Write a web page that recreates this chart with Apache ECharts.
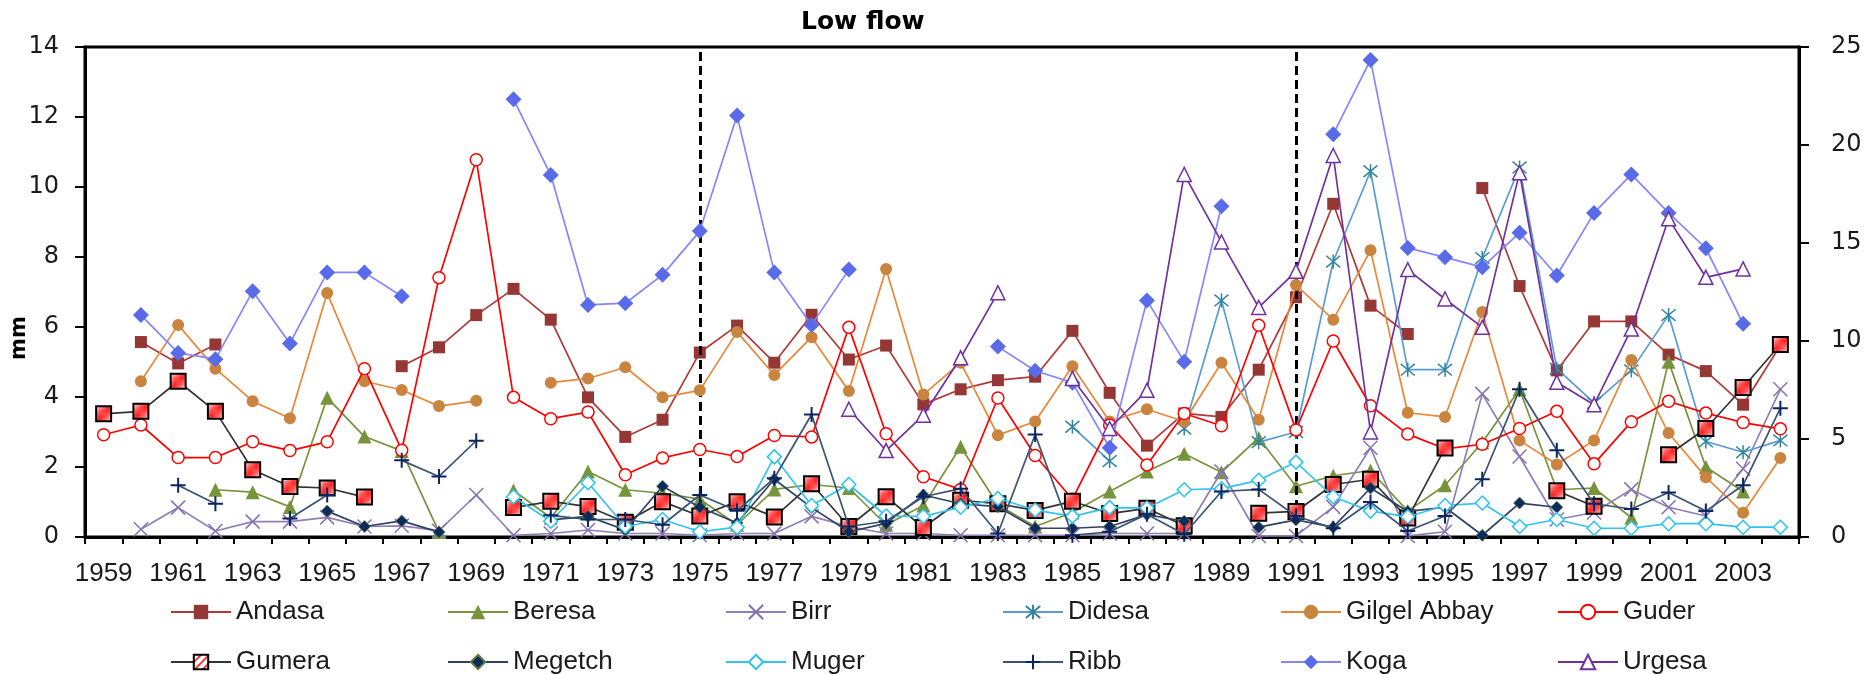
<!DOCTYPE html>
<html>
<head>
<meta charset="utf-8">
<script src="https://cdn.jsdelivr.net/npm/echarts@6/dist/echarts.min.js"></script>
<style>
html,body{margin:0;padding:0;background:#fff;}
#chart{width:1866px;height:674px;}
</style>
</head>
<body>
<div id="chart"></div>
<script>
// ---------- DATA ----------
const years = ['1959','1960','1961','1962','1963','1964','1965','1966','1967','1968','1969','1970','1971','1972','1973','1974','1975','1976','1977','1978','1979','1980','1981','1982','1983','1984','1985','1986','1987','1988','1989','1990','1991','1992','1993','1994','1995','1996','1997','1998','1999','2000','2001','2002','2003','2004'];
const leftTicks = [0, 14, 2];   // min, max, interval (mm)
const rightTicks = [0, 25, 5];
const breakYears = ['1975', '1991'];

const andasa = [null,5.57,4.96,5.50,null,null,null,null,4.88,5.42,6.34,7.09,6.21,3.99,2.86,3.35,5.27,6.04,4.98,6.35,5.07,5.47,3.79,4.22,4.48,4.58,5.89,4.12,2.61,3.53,3.43,4.78,6.85,9.52,6.61,5.80,null,9.97,7.17,4.76,6.16,6.16,5.21,4.74,3.78,5.47];
const beresa = [null,null,null,1.35,1.28,0.86,3.98,2.87,2.46,0.14,null,1.33,0.55,1.87,1.35,1.25,1.08,0.35,1.36,1.50,1.40,0.35,0.90,2.58,0.92,0.30,0.70,1.30,1.87,2.38,1.85,2.83,1.45,1.75,1.90,0.74,1.48,2.70,4.22,1.35,1.40,0.55,5.01,2.00,1.30,null];
const birr = [null,0.22,0.84,0.17,0.44,0.44,0.56,0.30,0.32,0.18,1.20,0.05,0.10,0.20,0.10,0.10,0.05,0.10,0.10,0.59,0.30,0.10,0.10,0.05,0.05,0.05,0.05,0.10,0.10,0.10,1.87,0.03,0.03,0.86,2.55,0.03,0.15,4.09,2.30,0.50,0.70,1.36,0.85,0.60,1.95,4.22];
const didesa = [null,null,null,null,null,null,null,null,null,null,null,null,null,null,null,null,null,null,null,null,null,null,null,null,null,null,3.15,2.17,null,3.10,6.76,2.71,3.00,7.87,10.45,4.78,4.78,7.97,10.56,4.81,3.83,4.76,6.34,2.73,2.42,2.76];
const gilgelAbbay = [null,4.45,6.06,4.81,3.88,3.39,6.97,4.45,4.20,3.74,3.89,null,4.41,4.53,4.85,3.99,4.19,5.86,4.63,5.71,4.17,7.66,4.07,4.98,2.91,3.30,4.88,3.30,3.65,3.30,4.98,3.35,7.20,6.21,8.19,3.55,3.43,6.43,2.76,2.07,2.76,5.06,2.97,1.71,0.69,2.26];
const guder = [2.92,3.20,2.27,2.27,2.72,2.47,2.72,4.81,2.48,7.41,10.78,3.99,3.38,3.57,1.78,2.26,2.50,2.30,2.90,2.86,5.99,2.95,1.72,1.36,3.97,2.33,1.08,3.20,2.06,3.53,3.18,6.05,3.06,5.60,3.75,2.94,2.52,2.65,3.10,3.59,2.09,3.29,3.88,3.54,3.27,3.09];
const gumera = [3.52,3.59,4.45,3.59,1.92,1.44,1.40,1.14,null,null,null,0.84,1.02,0.87,0.42,1.01,0.60,1.01,0.57,1.52,0.30,1.15,0.27,1.05,0.95,0.76,1.02,0.67,0.82,0.32,null,0.68,0.73,1.50,1.65,0.54,2.54,null,null,1.32,0.88,null,2.35,3.10,4.27,5.50];
const megetch = [null,null,null,null,null,null,0.74,0.30,0.46,0.14,null,null,0.49,0.59,0.20,1.45,0.85,0.40,1.65,0.84,0.15,0.39,1.20,0.95,0.87,0.25,0.25,0.30,0.64,0.45,null,0.28,0.49,0.28,1.40,0.73,0.85,0.05,0.97,0.85,null,null,null,null,null,null];
const muger = [null,null,null,null,null,null,null,null,null,null,null,1.15,0.45,1.55,0.30,0.50,0.15,0.28,2.29,0.90,1.50,0.60,0.59,0.85,1.10,0.77,0.59,0.84,0.83,1.35,1.38,1.62,2.14,1.15,0.74,0.58,0.90,0.97,0.30,0.50,0.25,0.25,0.38,0.38,0.28,0.28];
const ribb = [null,null,1.48,0.95,null,0.53,1.20,null,2.19,1.73,2.75,null,0.62,0.50,0.50,0.35,1.20,0.75,1.68,3.50,0.30,0.45,1.15,1.38,0.10,2.93,0.05,0.15,0.65,0.08,1.30,1.36,0.60,0.25,1.00,0.17,0.60,1.65,4.22,2.48,0.95,0.80,1.27,0.74,1.48,3.68];
const koga = [null,6.34,5.26,5.08,7.02,5.53,7.56,7.56,6.88,null,null,12.51,10.34,6.63,6.68,7.49,8.74,12.04,7.56,6.06,7.64,null,null,null,5.44,4.75,4.41,2.55,6.76,5.01,9.45,null,null,11.51,13.63,8.26,7.99,7.71,8.69,7.47,9.26,10.36,9.26,8.25,6.09,null];
const urgesa = [null,null,null,null,null,null,null,null,null,null,null,null,null,null,null,null,null,null,null,null,3.65,2.47,3.48,5.12,6.98,null,4.53,3.10,4.19,10.36,8.43,6.56,7.59,10.90,3.00,7.64,6.80,5.99,10.41,4.42,3.78,5.94,9.09,7.42,7.66,null];

const seriesNames = ['Andasa','Beresa','Birr','Didesa','Gilgel Abbay','Guder','Gumera','Megetch','Muger','Ribb','Koga','Urgesa'];
const seriesData = [andasa,beresa,birr,didesa,gilgelAbbay,guder,gumera,megetch,muger,ribb,koga,urgesa];

// ---------- STYLES ----------
function hatch(){
  const c = document.createElement('canvas');
  c.width = 8; c.height = 8;
  const g = c.getContext('2d');
  g.fillStyle = '#ffffff'; g.fillRect(0,0,8,8);
  g.strokeStyle = '#ff1f1f'; g.lineWidth = 1.6;
  g.beginPath(); g.moveTo(0,8); g.lineTo(8,0); g.stroke();
  g.beginPath(); g.moveTo(-4,4); g.lineTo(4,-4); g.stroke();
  g.beginPath(); g.moveTo(4,12); g.lineTo(12,4); g.stroke();
  return c;
}
const X_PATH = 'path://M0,0L10,10M10,0L0,10';
const AST_PATH = 'path://M0,0L10,10M10,0L0,10M5,-1L5,11';
const PLUS_PATH = 'path://M5,0L5,10M0,5L10,5';

const styles = {
  'Andasa':      {line:'#B03A3A', symbol:'rect', size:12, fill:'#953735', border:'#953735', bw:0},
  'Beresa':      {line:'#77933C', symbol:'triangle', size:14, fill:'#77933C', border:'#77933C', bw:0},
  'Birr':        {line:'#8F7FB5', symbol:X_PATH, size:14, fill:'none', border:'#8672B0', bw:1.5},
  'Didesa':      {line:'#5B9BD5', symbol:AST_PATH, size:14, fill:'none', border:'#31859C', bw:1.5},
  'Gilgel Abbay':{line:'#E8873A', symbol:'circle', size:12, fill:'#C9843F', border:'#C9843F', bw:0},
  'Guder':       {line:'#FF0000', symbol:'circle', size:12, fill:'#ffffff', border:'#FF0000', bw:1.5},
  'Gumera':      {line:'#333333', symbol:'rect', size:15, fill:{image:hatch(), repeat:'repeat'}, border:'#000000', bw:2},
  'Megetch':     {line:'#2F4262', symbol:'diamond', size:12, fill:'#0D2B5C', border:'#5E7A45', bw:0.8},
  'Muger':       {line:'#33C3F0', symbol:'diamond', size:14, fill:'#ffffff', border:'#29C4EE', bw:1.5},
  'Ribb':        {line:'#3A5273', symbol:PLUS_PATH, size:15, fill:'none', border:'#0B2560', bw:2},
  'Koga':        {line:'#8585FF', symbol:'diamond', size:16, fill:'#5A6BEA', border:'#5A6BEA', bw:0},
  'Urgesa':      {line:'#7030A0', symbol:'triangle', size:14, fill:'#ffffff', border:'#7030A0', bw:1.5}
};

const series = seriesNames.map((name, i) => {
  const s = styles[name];
  const o = {
    name: name,
    type: 'line',
    data: seriesData[i],
    connectNulls: false,
    symbol: s.symbol,
    symbolSize: s.size,
    showAllSymbol: true,
    lineStyle: {color: s.line, width: 1.7},
    itemStyle: {color: s.fill, borderColor: s.border, borderWidth: s.bw},
    emphasis: {disabled: true},
    z: 2 + i
  };
  if (i === 0) {
    o.markLine = {
      silent: true,
      symbol: ['none','none'],
      label: {show: false},
      lineStyle: {color: '#000', type: [9, 5], width: 3},
      data: breakYears.map(y => ({xAxis: y}))
    };
  }
  return o;
});

// legend: 2 rows x 6 columns
const legendCols = [165, 442, 720, 997, 1275, 1552];
const legendRows = [594, 644];
const legends = seriesNames.map((name, i) => ({
  data: [name],
  left: legendCols[i % 6],
  top: legendRows[Math.floor(i / 6)],
  itemWidth: 60,
  itemHeight: 18,
  selectedMode: false,
  textStyle: {fontFamily: 'Liberation Sans, Arial, sans-serif', fontSize: 26, color: '#1a1a1a'}
}));

const labelFont = {fontFamily: 'DejaVu Sans, Verdana, sans-serif', fontSize: 24, color: '#1a1a1a'};

const option = {
  animation: false,
  backgroundColor: '#ffffff',
  title: {
    text: 'Low flow',
    left: 796, top: 5,
    textStyle: {fontFamily: 'DejaVu Sans, Verdana, sans-serif', fontWeight: 'bold', fontSize: 25, color: '#000'}
  },
  grid: {left: 85, right: 67, top: 47, bottom: 137, show: true, borderColor: '#000', borderWidth: 3, backgroundColor: 'transparent'},
  legend: legends,
  xAxis: {
    type: 'category',
    data: years,
    boundaryGap: true,
    axisLine: {lineStyle: {color: '#000', width: 3}},
    axisTick: {show: true, interval: 0, length: 7, inside: false, lineStyle: {color: '#000', width: 2}},
    axisLabel: {interval: 1, margin: 24, fontFamily: 'Liberation Sans, Arial, sans-serif', fontSize: 26, color: '#1a1a1a'},
    splitLine: {show: false}
  },
  yAxis: [
    {
      type: 'value', position: 'left',
      min: leftTicks[0], max: leftTicks[1], interval: leftTicks[2],
      axisLine: {show: true, lineStyle: {color: '#000', width: 3}},
      axisTick: {show: true, length: 10, lineStyle: {color: '#000', width: 2}},
      axisLabel: Object.assign({margin: 26}, labelFont),
      splitLine: {show: false}
    },
    {
      type: 'value', position: 'right',
      min: rightTicks[0], max: rightTicks[1], interval: rightTicks[2],
      axisLine: {show: true, lineStyle: {color: '#000', width: 3}},
      axisTick: {show: true, length: 10, lineStyle: {color: '#000', width: 2}},
      axisLabel: Object.assign({margin: 32}, labelFont),
      splitLine: {show: false}
    }
  ],
  graphic: [
    {type: 'text', x: 20, y: 338, rotation: Math.PI / 2,
     style: {text: 'mm', font: 'bold 21px DejaVu Sans', fill: '#000', textAlign: 'center', textVerticalAlign: 'middle'}},
    {type: 'text', x: 1873, y: 293, rotation: Math.PI / 2,
     style: {text: 'mm', font: 'bold 21px DejaVu Sans', fill: '#000', textAlign: 'center', textVerticalAlign: 'middle'}}
  ],
  series: series
};

const chart = echarts.init(document.getElementById('chart'), null, {renderer: 'canvas'});
chart.setOption(option);
</script>
</body>
</html>
